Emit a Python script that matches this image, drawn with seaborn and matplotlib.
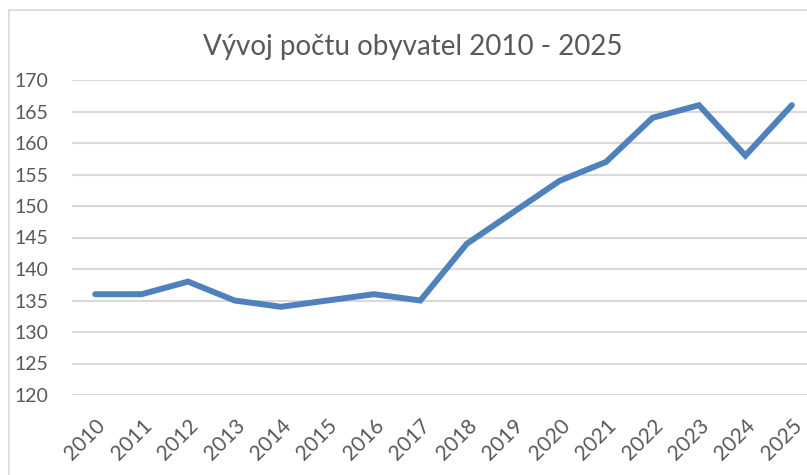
import matplotlib
matplotlib.use("Agg")
import matplotlib.pyplot as plt
import seaborn as sns
from matplotlib.lines import Line2D

# data
years = [2010, 2011, 2012, 2013, 2014, 2015, 2016, 2017,
         2018, 2019, 2020, 2021, 2022, 2023, 2024, 2025]
population = [136, 136, 138, 135, 134, 135, 136, 135,
              144, 149, 154, 157, 164, 166, 158, 166]
y_ticks = [120, 125, 130, 135, 140, 145, 150, 155, 160, 165, 170]

sns.set_theme(style="white")
plt.rcParams['font.family'] = ['Lato', 'DejaVu Sans']

W, H = 807, 475
fig = plt.figure(figsize=(W / 100, H / 100), dpi=100)
ax = fig.add_axes([72 / W, 1 - 395 / H, (W - 72) / W + 0.01, 315 / H])

sns.lineplot(x=years, y=population, ax=ax, color='#4F81BD', linewidth=4.3,
             solid_capstyle='round', solid_joinstyle='miter')

ax.set_xlim(2009.5, 2025.5)
ax.set_ylim(120, 170)
ax.set_yticks(y_ticks)
ax.set_xticks(years)
ax.set_xticklabels([str(y) for y in years], rotation=45, ha='right',
                   rotation_mode='anchor')
ax.tick_params(axis='both', colors='#595959', length=0)
ax.tick_params(axis='x', labelsize=15, pad=15)
ax.tick_params(axis='y', labelsize=14, pad=17)
ax.yaxis.grid(True, color='#D9D9D9', linewidth=1.5)
ax.set_axisbelow(True)
for s in ax.spines.values():
    s.set_visible(False)
ax.set_xlabel('')
ax.set_ylabel('')

fig.text(413 / W, 1 - 47 / H, 'Vývoj počtu obyvatel 2010 - 2025',
         ha='center', va='center', fontsize=20, color='#595959')

# chart frame (left and top edges visible)
fig.add_artist(Line2D([9 / W, 9 / W], [0, 1 - 10 / H], transform=fig.transFigure,
                      color='#D9D9D9', linewidth=1.2))
fig.add_artist(Line2D([9 / W, 1], [1 - 10 / H, 1 - 10 / H], transform=fig.transFigure,
                      color='#D9D9D9', linewidth=1.2))

fig.savefig('out.png', dpi=100)
